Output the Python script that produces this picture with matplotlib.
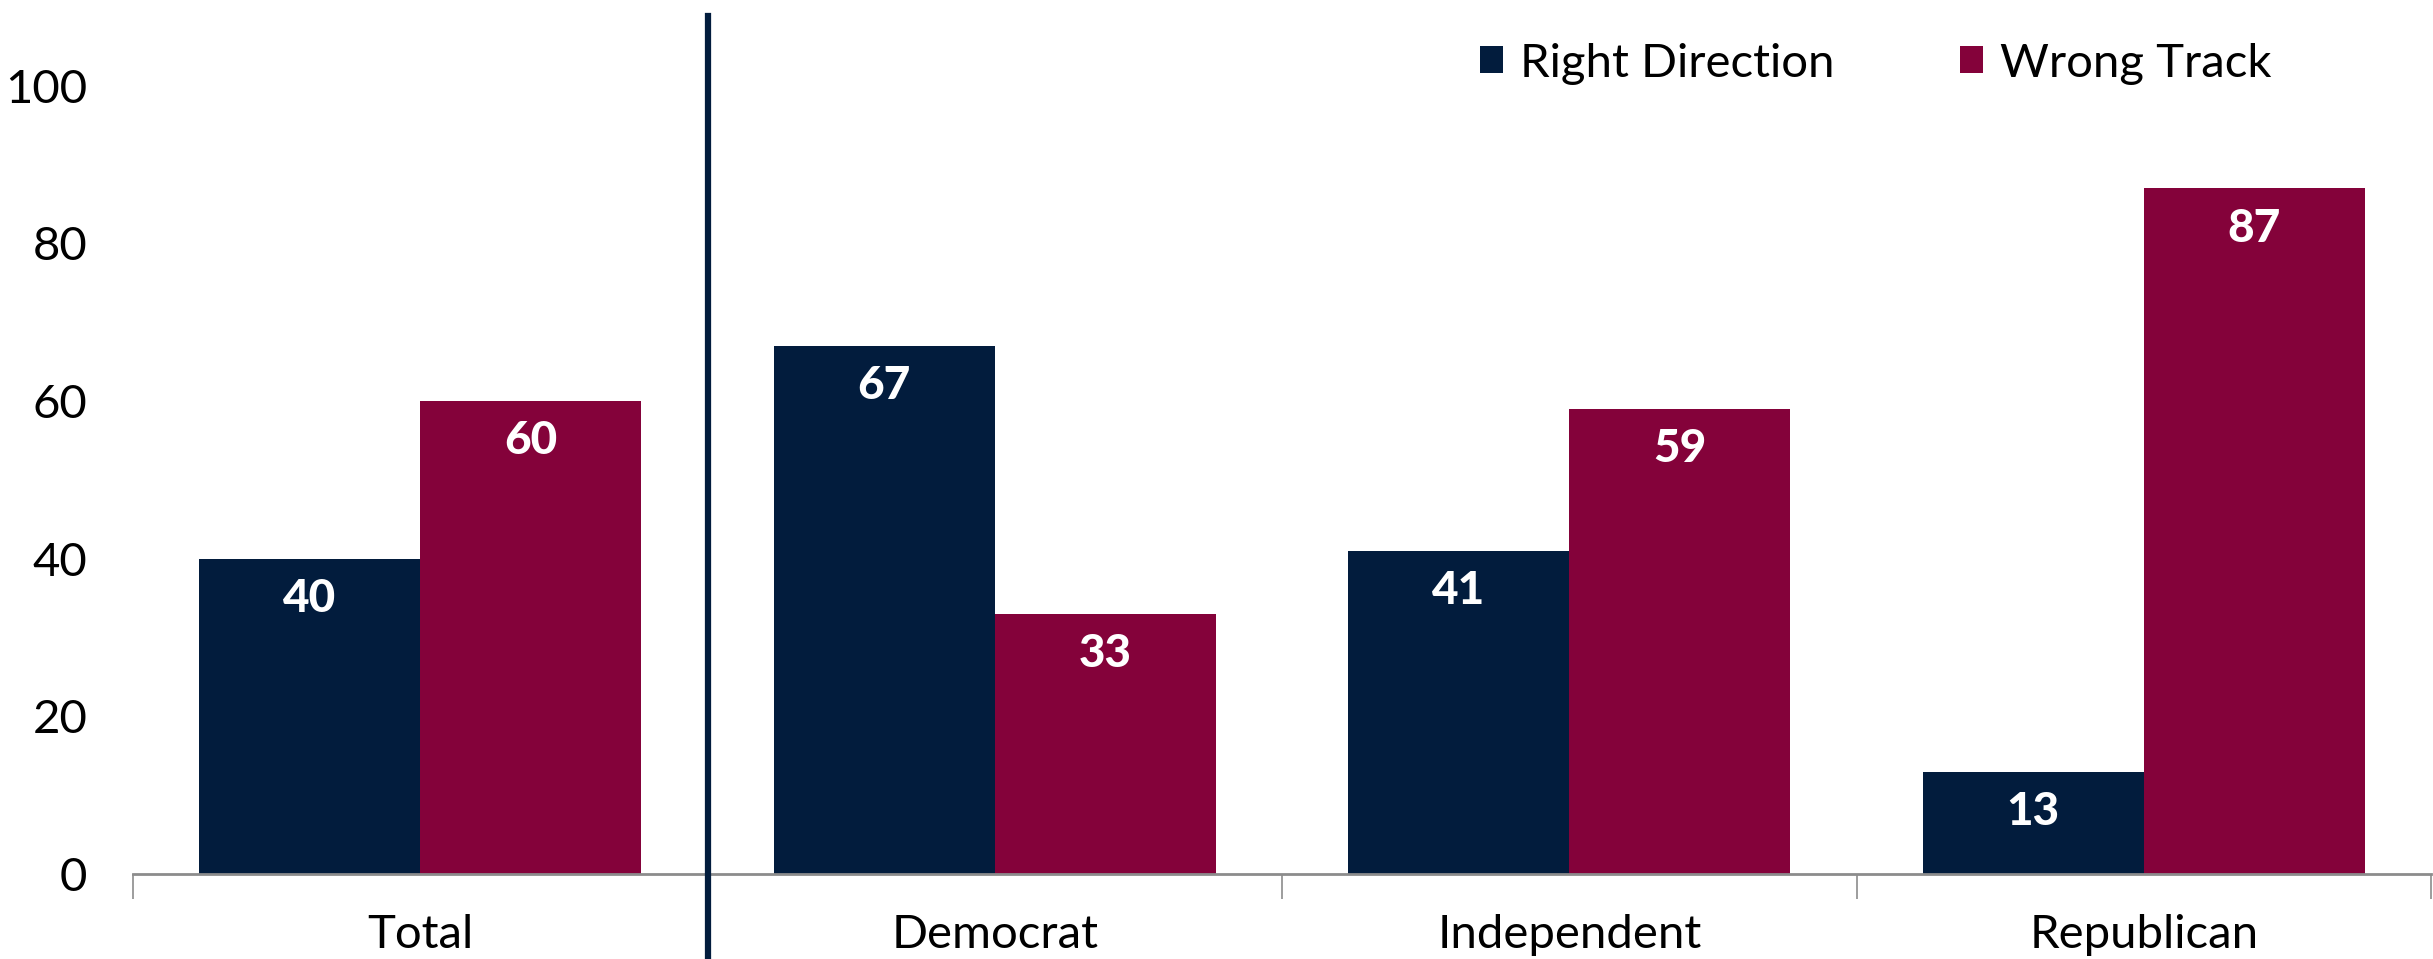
import matplotlib

matplotlib.use("Agg")

import matplotlib.pyplot as plt  # noqa: E402
import numpy as np  # noqa: E402

plt.rcParams["font.family"] = ["Lato", "DejaVu Sans"]

categories = ["Total", "Democrat", "Independent", "Republican"]
right_direction = [40, 67, 41, 13]
wrong_track = [60, 33, 59, 87]

navy = "#021c3d"
maroon = "#84023a"

fig = plt.figure(figsize=(24.33, 9.59), dpi=100)
ax = fig.add_axes([133 / 2433, 85 / 959, (2433 - 135) / 2433, (874 - 7) / 959])

ind = np.arange(len(categories))
width = 0.385

rects_r = ax.bar(ind - width / 2, right_direction, width, color=navy, label="Right Direction")
rects_w = ax.bar(ind + width / 2, wrong_track, width, color=maroon, label="Wrong Track")

for rects in (rects_r, rects_w):
    for rect in rects:
        ax.annotate(
            "%d" % rect.get_height(),
            (rect.get_x() + rect.get_width() / 2, rect.get_height()),
            xytext=(0, -29),
            textcoords="offset points",
            ha="center",
            va="center",
            color="white",
            fontsize=33,
            fontweight="black",
        )

ax.set_xlim(-0.5, len(categories) - 0.5)
ax.set_ylim(0, 110)
ax.set_yticks([0, 20, 40, 60, 80, 100])
ax.tick_params(axis="y", length=0, labelsize=34, pad=33)

# category labels between boundary ticks
ax.set_xticks(ind)
ax.set_xticklabels(categories, fontsize=34)
ax.tick_params(axis="x", which="major", length=0, pad=29)
ax.set_xticks(np.arange(-0.5, len(categories)), minor=True)
ax.tick_params(axis="x", which="minor", length=18, color="#8c8c8c", width=1.2)

for side in ("left", "right", "top"):
    ax.spines[side].set_visible(False)
ax.spines["bottom"].set_color("#8c8c8c")
ax.spines["bottom"].set_linewidth(2)

# divider between Total and the party groups
ax.plot([0.5, 0.5], [-10.5, 108.8], color=navy, lw=4.5, clip_on=False, zorder=5)

ax.legend(
    loc="upper right",
    bbox_to_anchor=(0.949, 1.008),
    ncol=2,
    frameon=False,
    fontsize=34,
    handlelength=0.5,
    handleheight=0.5,
    handletextpad=0.35,
    columnspacing=2.65,
)

plt.savefig("out.png", dpi=100)
